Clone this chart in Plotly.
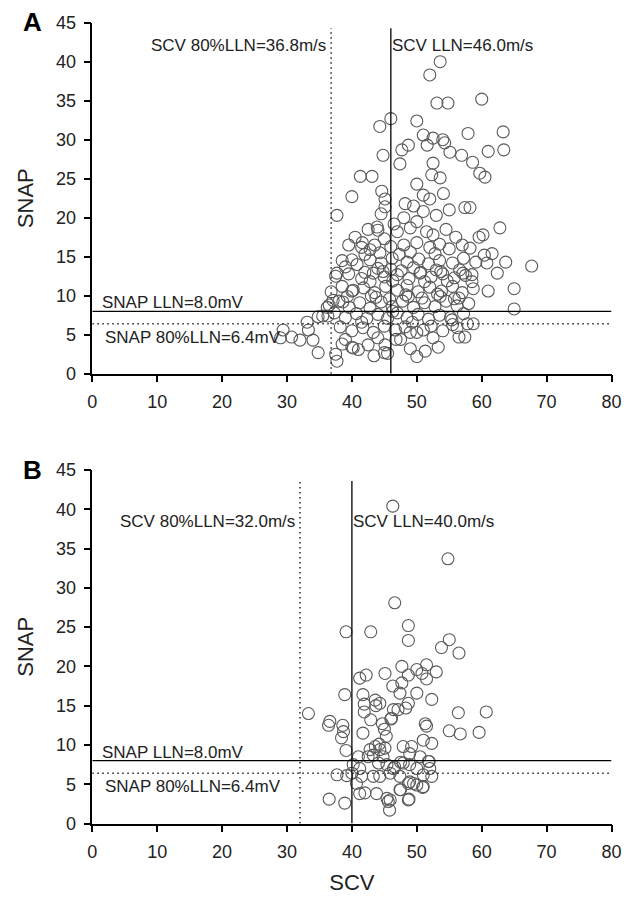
import plotly.graph_objects as go

# ---------------- Panel A data (SCV m/s, SNAP µV) ----------------
scv_a = [
    53.6, 52.0, 53.1, 54.8, 60.0, 46.0, 44.3, 50.0, 57.9, 63.3, 51.0, 52.5, 54.0,
    61.0, 63.4, 58.6, 59.7, 60.5, 58.2, 62.8, 59.6, 60.2, 58.2, 60.4, 61.6, 59.1, 60.8, 63.7, 67.7, 62.4, 58.5, 58.5, 58.7, 61.0, 65.0, 65.0, 58.7,
    57.1, 56.5, 57.8, 56.2, 57.4, 56.5, 55.4, 53.3, 51.3, 50.0, 52.5, 51.0, 46.8, 49.0, 45.1,
    37.7, 40.0, 34.8, 37.7, 33.1, 33.3, 30.7, 32.0, 34.0, 29.4, 29.0, 36.3, 34.8, 36.2, 37.1, 38.6, 40.2, 40.0, 40.2, 43.4, 45.0,
    48.7, 47.7, 51.6, 54.3, 55.1, 56.9, 44.8, 47.4, 52.5, 52.3, 53.6, 41.3, 43.1, 40.0, 44.6, 45.1, 45.1, 50.0, 51.0, 52.0, 54.1, 37.7, 48.2, 57.4, 43.9, 44.0, 41.6, 42.8,
    44.5, 48.0, 49.5, 51.0, 53.0, 55.0, 50.0, 46.5,
    42.5, 47.0, 49.0, 51.5, 52.5, 54.5, 56.0, 45.0, 40.5,
    39.5, 41.5, 43.5, 46.0, 48.0, 50.0, 52.0, 53.5, 55.0, 57.0, 44.3, 47.3,
    38.5, 40.8, 42.8, 44.5, 46.2, 48.5, 50.3, 51.8, 53.5, 55.5, 57.2, 49.0, 52.8, 42.0,
    37.5, 39.5, 41.5, 43.3, 45.0, 47.0, 48.8, 50.5, 52.2, 54.0, 55.8, 57.5, 44.0, 46.0, 49.5, 53.0, 39.0,
    36.8, 38.5, 40.0, 41.8, 43.5, 45.2, 47.0, 48.5, 50.2, 52.0, 53.8, 55.5, 57.0, 42.8, 46.3, 51.2, 54.7, 39.3,
    36.5, 38.0, 39.6, 41.2, 42.8, 44.5, 46.2, 47.8, 49.5, 51.2, 52.8, 54.5, 56.2, 58.0, 43.7, 48.7, 53.6,
    35.5, 37.3, 39.0, 40.7, 42.3, 44.0, 45.5, 47.0, 48.5, 50.2, 51.8, 53.5, 55.2, 57.2, 46.3, 41.5, 49.3,
    38.2, 40.0, 41.7, 43.3, 45.0, 46.7, 48.2, 50.0, 52.2, 54.0, 55.5, 44.0, 47.5, 39.0, 42.5,
    37.5, 41.0, 45.5, 49.0, 38.5,
    43.0, 45.8, 48.3, 50.8, 53.2, 55.8, 42.0, 44.8, 47.6, 50.6, 53.7, 56.6,
]
snap_a = [
    40.0, 38.3, 34.7, 34.7, 35.2, 32.7, 31.7, 32.4, 30.8, 31.0, 30.6, 30.2, 30.0,
    28.5, 28.7, 27.1, 25.7, 25.2, 21.3, 18.7, 17.5, 17.8, 16.1, 15.2, 15.4, 14.3, 14.2, 14.3, 13.8, 12.9, 12.7, 11.8, 10.9, 10.6, 10.9, 8.3, 6.4,
    12.9, 9.7, 6.4, 5.9, 4.7, 4.7, 6.9, 3.4, 2.9, 2.2, 4.6, 5.6, 4.4, 5.3, 3.7,
    12.9, 14.6, 2.7, 1.6, 6.6, 5.6, 4.7, 4.3, 4.3, 5.6, 4.6, 7.4, 7.3, 8.5, 9.4, 9.2, 10.7, 3.4, 3.3, 2.3, 2.7,
    29.3, 28.7, 29.3, 29.6, 28.4, 28.0, 28.0, 26.9, 27.0, 25.5, 25.1, 25.3, 25.3, 22.7, 23.4, 22.4, 21.4, 24.3, 22.9, 22.4, 23.1, 20.3, 21.8, 21.3, 18.8, 18.4, 16.8, 15.9,
    20.5, 20.0, 21.5, 20.8, 20.3, 21.0, 19.5, 19.2,
    18.5, 18.2, 18.7, 18.2, 17.8, 18.5, 17.5, 17.3, 17.5,
    16.5, 16.2, 16.5, 16.3, 16.5, 16.8, 16.2, 16.6, 16.0, 16.5, 15.5, 15.3,
    14.5, 14.0, 14.6, 14.2, 14.8, 14.3, 14.7, 14.1, 14.5, 14.2, 14.8, 15.6, 15.4, 15.3,
    12.5, 12.8, 12.2, 12.9, 12.4, 12.7, 12.2, 12.9, 12.4, 12.8, 12.3, 12.6, 13.5, 13.4, 13.6, 13.3, 13.7,
    10.5, 11.2, 10.6, 11.0, 10.4, 11.2, 10.7, 11.3, 10.5, 11.1, 10.6, 11.2, 10.4, 11.8, 11.9, 11.8, 11.9, 9.9,
    8.8, 9.3, 8.5, 9.1, 8.4, 9.2, 8.6, 9.3, 8.5, 9.1, 8.6, 9.3, 8.7, 9.0, 9.8, 9.9, 9.9,
    7.4, 7.8, 7.2, 7.7, 7.1, 7.6, 7.1, 7.8, 7.2, 7.6, 7.0, 7.5, 7.2, 7.7, 8.0, 6.6, 6.6,
    6.0, 5.5, 5.9, 5.3, 6.1, 5.6, 6.0, 5.3, 6.1, 5.5, 6.3, 4.6, 4.4, 4.4, 3.7,
    2.5, 3.1, 2.6, 3.2, 3.8,
    10.0, 9.6, 10.1, 9.7, 10.2, 9.6, 13.0, 13.1, 13.2, 13.0, 13.1, 13.3,
]

# ---------------- Panel B data ----------------
scv_b = [
    46.3, 54.8, 46.6, 39.1, 42.9, 48.7, 48.7, 55.0, 53.8, 56.5,
    33.3, 38.9, 36.6, 36.4, 38.6, 38.7, 38.4, 39.1, 36.5, 38.9, 37.7, 39.2,
    41.2, 42.2, 45.1, 47.7, 48.7, 50.0, 51.5, 53.0, 51.5, 50.8,
    46.3, 47.7, 47.4, 50.0, 52.3, 41.7, 43.6, 41.9, 41.9, 43.7,
    46.4, 47.1, 48.3, 56.4, 60.7, 42.9, 44.7, 46.1, 51.3, 51.5,
    55.0, 56.7, 59.6, 41.7, 45.3, 45.0, 51.0, 52.3, 48.7, 46.0, 44.3,
    44.2, 43.6, 45.1, 44.3, 42.8, 42.5, 44.8, 43.3, 44.1, 45.4, 46.6, 47.9, 49.2, 48.9, 50.5, 51.8, 52.0,
    47.9, 48.9, 50.0, 51.0, 52.3, 41.0, 40.2, 41.2, 40.0, 41.5, 43.3, 44.3, 45.9, 47.4, 48.9, 50.0, 51.0,
    48.7, 47.4, 40.7, 41.2, 42.0, 43.8, 45.4, 45.6, 45.8, 48.7,
    47.5, 48.8, 45.9, 51.9, 47.5, 50.9, 46.4, 49.5,
]
snap_b = [
    40.4, 33.7, 28.1, 24.4, 24.4, 25.2, 23.3, 23.4, 22.4, 21.7,
    14.0, 16.4, 13.0, 12.5, 12.5, 11.7, 10.9, 9.3, 3.1, 2.6, 6.2, 6.1,
    18.5, 18.9, 19.1, 20.0, 18.9, 19.6, 20.2, 19.3, 18.4, 19.1,
    17.5, 17.9, 16.6, 16.6, 15.8, 16.4, 15.7, 15.2, 14.2, 15.0,
    14.5, 14.5, 14.7, 14.1, 14.2, 13.2, 12.7, 13.4, 12.7, 12.4,
    11.8, 11.4, 11.6, 11.5, 11.1, 12.0, 10.6, 10.2, 15.3, 13.3, 15.3,
    10.1, 9.8, 9.6, 9.4, 9.4, 8.5, 8.5, 8.7, 7.7, 7.5, 7.2, 9.8, 9.8, 8.9, 8.5, 7.9, 7.0,
    7.7, 7.5, 7.0, 6.2, 6.0, 8.5, 7.5, 7.0, 6.4, 6.0, 6.0, 6.0, 6.4, 6.0, 5.3, 4.9, 4.7,
    5.1, 4.3, 5.1, 3.8, 3.9, 3.8, 3.2, 2.8, 1.7, 3.0,
    7.8, 3.1, 3.0, 7.9, 4.3, 4.6, 7.0, 5.1,
]

# reference thresholds
scv_lln = [46.0, 40.0]
scv_80lln = [36.8, 32.0]
snap_lln = 8.0
snap_80lln = 6.4

x_ticks = [0, 10, 20, 30, 40, 50, 60, 70, 80]
y_ticks = [0, 5, 10, 15, 20, 25, 30, 35, 40, 45]

W, H = 625, 894   # page has an 8px body margin
OFF = 8
FONT = "Liberation Sans, Arial, sans-serif"

fig = go.Figure()
marker = dict(symbol="circle-open", size=12, color="#5a5a5a", line=dict(width=1.1, color="#5a5a5a"))
fig.add_trace(go.Scatter(x=scv_a, y=snap_a, mode="markers", marker=marker, xaxis="x", yaxis="y", showlegend=False))
fig.add_trace(go.Scatter(x=scv_b, y=snap_b, mode="markers", marker=marker, xaxis="x2", yaxis="y2", showlegend=False))

xdom = [(92.3 - OFF) / W, (611.5 - OFF) / W]
ydomA = [1 - (373.7 - OFF) / H, 1 - (22.7 - OFF) / H]
ydomB = [1 - (823.5 - OFF) / H, 1 - (470.0 - OFF) / H]

axis_common = dict(showline=True, linecolor="black", linewidth=1.5, ticks="outside", ticklen=7,
                   tickcolor="black", tickwidth=1.5, showgrid=False, zeroline=False,
                   tickfont=dict(family=FONT, size=18, color="#222"), ticklabelstandoff=4)

DOT = "1.5px,3.5px"
shapes = []
annotations = []
for i, (xa, ya) in enumerate([("x", "y"), ("x2", "y2")]):
    top = 44.3 if i == 0 else 43.6
    shapes.append(dict(type="line", xref=xa, yref=ya, x0=scv_lln[i], x1=scv_lln[i], y0=0, y1=top,
                       line=dict(color="black", width=1.3)))
    shapes.append(dict(type="line", xref=xa, yref=ya, x0=scv_80lln[i], x1=scv_80lln[i], y0=0, y1=top,
                       line=dict(color="#222", width=1.5, dash=DOT)))
    shapes.append(dict(type="line", xref=xa, yref=ya, x0=0, x1=80, y0=snap_lln, y1=snap_lln,
                       line=dict(color="black", width=1.3)))
    shapes.append(dict(type="line", xref=xa, yref=ya, x0=0, x1=80, y0=snap_80lln, y1=snap_80lln,
                       line=dict(color="#222", width=1.5, dash=DOT)))
    ty = 42.1 if i == 0 else 38.4
    afont = dict(family=FONT, size=17, color="#222")
    annotations += [
        dict(xref=xa, yref=ya, x=scv_80lln[i], y=ty, text=f"SCV 80%LLN={scv_80lln[i]:.1f}m/s",
             xanchor="right", yanchor="middle", xshift=-3, showarrow=False, font=afont),
        dict(xref=xa, yref=ya, x=scv_lln[i], y=ty, text=f"SCV LLN={scv_lln[i]:.1f}m/s",
             xanchor="left", yanchor="middle", xshift=-1, showarrow=False, font=afont),
        dict(xref=xa, yref=ya, x=1.2, y=snap_lln, text=f"SNAP LLN={snap_lln:.1f}mV",
             xanchor="left", yanchor="bottom", yshift=-3, showarrow=False, font=afont),
        dict(xref=xa, yref=ya, x=1.6, y=snap_80lln, text=f"SNAP 80%LLN={snap_80lln:.1f}mV",
             xanchor="left", yanchor="top", yshift=-2, showarrow=False, font=afont),
    ]

annotations += [
    dict(xref="paper", yref="paper", x=(21 - OFF) / W, y=1 - (22 - OFF) / H, text="<b>A</b>", showarrow=False,
         xanchor="left", yanchor="middle", font=dict(family=FONT, size=26, color="black")),
    dict(xref="paper", yref="paper", x=(21 - OFF) / W, y=1 - (470 - OFF) / H, text="<b>B</b>", showarrow=False,
         xanchor="left", yanchor="middle", font=dict(family=FONT, size=26, color="black")),
]

title_font = dict(family=FONT, size=22, color="#222")
fig.update_layout(
    width=W, height=H, paper_bgcolor="white", plot_bgcolor="white",
    margin=dict(l=0, r=0, t=0, b=0),
    xaxis=dict(domain=xdom, range=[0, 80], tickvals=x_ticks, anchor="y", **axis_common),
    yaxis=dict(domain=ydomA, range=[0, 45], tickvals=y_ticks, anchor="x",
               title=dict(text="SNAP", font=title_font, standoff=16), **axis_common),
    xaxis2=dict(domain=xdom, range=[0, 80], tickvals=x_ticks, anchor="y2",
                title=dict(text="SCV", font=title_font, standoff=14), **axis_common),
    yaxis2=dict(domain=ydomB, range=[0, 45], tickvals=y_ticks, anchor="x2",
                title=dict(text="SNAP", font=title_font, standoff=16), **axis_common),
    shapes=shapes, annotations=annotations,
)
for ax in ["xaxis", "yaxis", "xaxis2", "yaxis2"]:
    fig.layout[ax].automargin = False

fig.write_html("out.html")
